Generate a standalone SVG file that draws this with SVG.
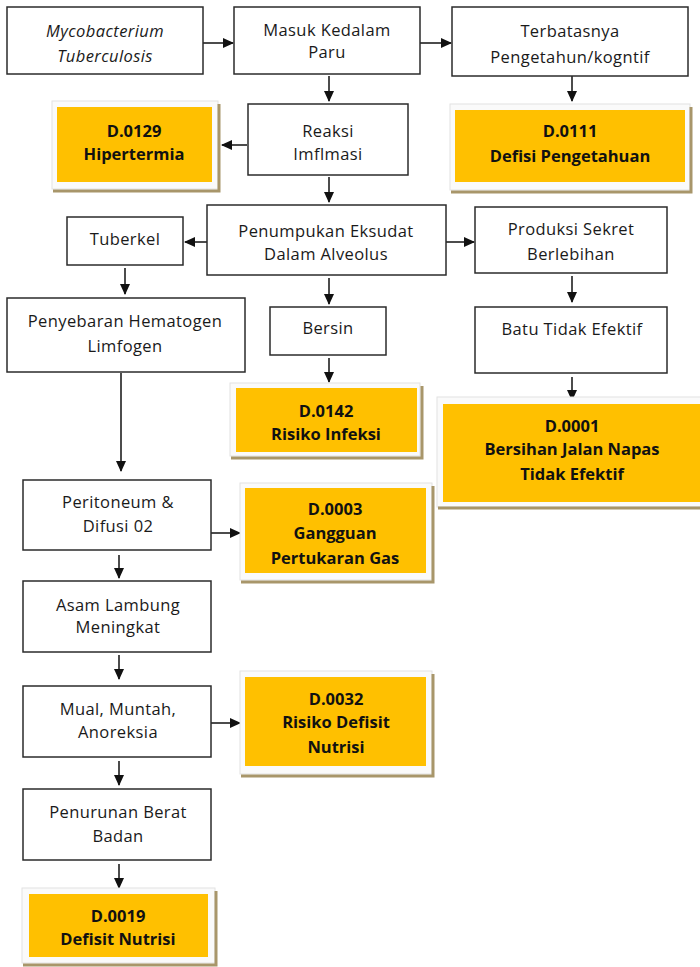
<svg xmlns="http://www.w3.org/2000/svg" width="700" height="967" viewBox="0 0 700 967">
<style>
.box{fill:#fff;stroke:#2b2b2b;stroke-width:1.5}
.t{font-family:"Open Sans","Liberation Sans",sans-serif;font-size:16.5px;fill:#1a1a1a;text-anchor:middle;letter-spacing:0.4px}
.it{font-style:italic}
.b{font-family:"Open Sans","Liberation Sans",sans-serif;font-size:16.5px;font-weight:bold;fill:#111;text-anchor:middle}
.frame{fill:#fafafa;stroke:#e2e2e2;stroke-width:1}
.yel{fill:#FFC000}
.shadow{fill:none;stroke:#a8966a;stroke-width:3}
.edge{fill:none;stroke:#111;stroke-width:1.5}
</style>
<defs>
<marker id="ah" markerWidth="11" markerHeight="11" refX="10" refY="5.5" orient="auto" markerUnits="userSpaceOnUse">
<path d="M0,0.5 L11,5.5 L0,10.5 Z" fill="#111"/>
</marker>
</defs>

<g id="connectors">
<line class="edge" x1="203" y1="43" x2="233" y2="43" marker-end="url(#ah)"/>
<line class="edge" x1="420" y1="43" x2="451" y2="43" marker-end="url(#ah)"/>
<line class="edge" x1="329" y1="76" x2="329" y2="101" marker-end="url(#ah)"/>
<line class="edge" x1="572" y1="76" x2="572" y2="101" marker-end="url(#ah)"/>
<line class="edge" x1="247" y1="145" x2="222" y2="145" marker-end="url(#ah)"/>
<line class="edge" x1="329" y1="177" x2="329" y2="202" marker-end="url(#ah)"/>
<line class="edge" x1="207" y1="242" x2="185" y2="242" marker-end="url(#ah)"/>
<line class="edge" x1="446" y1="242" x2="474" y2="242" marker-end="url(#ah)"/>
<line class="edge" x1="125" y1="268" x2="125" y2="294" marker-end="url(#ah)"/>
<line class="edge" x1="329" y1="278" x2="329" y2="304" marker-end="url(#ah)"/>
<line class="edge" x1="572" y1="276" x2="572" y2="302" marker-end="url(#ah)"/>
<line class="edge" x1="329" y1="358" x2="329" y2="382" marker-end="url(#ah)"/>
<line class="edge" x1="572" y1="377" x2="572" y2="400" marker-end="url(#ah)"/>
<line class="edge" x1="121" y1="373" x2="121" y2="471" marker-end="url(#ah)"/>
<line class="edge" x1="211" y1="533" x2="240" y2="533" marker-end="url(#ah)"/>
<line class="edge" x1="119" y1="555" x2="119" y2="578" marker-end="url(#ah)"/>
<line class="edge" x1="119" y1="655" x2="119" y2="679" marker-end="url(#ah)"/>
<line class="edge" x1="211" y1="723" x2="240" y2="723" marker-end="url(#ah)"/>
<line class="edge" x1="119" y1="761" x2="119" y2="785" marker-end="url(#ah)"/>
<line class="edge" x1="119" y1="864" x2="119" y2="888" marker-end="url(#ah)"/>
</g>

<g id="mycobacterium">
<rect class="box" x="7" y="7" width="196" height="67"/>
<text class="t it" x="105" y="37">Mycobacterium</text>
<text class="t it" x="105" y="62">Tuberculosis</text>
</g>
<g id="masuk">
<rect class="box" x="234" y="7" width="186" height="67"/>
<text class="t" x="327" y="36">Masuk Kedalam</text>
<text class="t" x="327" y="58">Paru</text>
</g>
<g id="terbatasnya">
<rect class="box" x="452" y="7" width="236" height="69"/>
<text class="t" x="570" y="37">Terbatasnya</text>
<text class="t" x="570" y="63">Pengetahun/kogntif</text>
</g>
<g id="reaksi">
<rect class="box" x="248" y="104" width="160" height="71"/>
<text class="t" x="328" y="137">Reaksi</text>
<text class="t" x="328" y="160">Imflmasi</text>
</g>
<g id="d0129">
<rect class="frame" x="52" y="101" width="166" height="88"/>
<polyline class="shadow" points="53,191 219,191 219,104"/>
<rect class="yel" x="57" y="107" width="155" height="75"/>
<text class="b" x="134" y="137">D.0129</text>
<text class="b" x="134" y="160">Hipertermia</text>
</g>
<g id="d0111">
<rect class="frame" x="450" y="104" width="240" height="86"/>
<polyline class="shadow" points="451,192 691,192 691,107"/>
<rect class="yel" x="455" y="110" width="230" height="72"/>
<text class="b" x="570" y="137">D.0111</text>
<text class="b" x="570" y="162">Defisi Pengetahuan</text>
</g>
<g id="penumpukan">
<rect class="box" x="207" y="205" width="239" height="70"/>
<text class="t" x="326" y="237">Penumpukan Eksudat</text>
<text class="t" x="326" y="260">Dalam Alveolus</text>
</g>
<g id="tuberkel">
<rect class="box" x="67" y="217" width="116" height="48"/>
<text class="t" x="125" y="245">Tuberkel</text>
</g>
<g id="produksi">
<rect class="box" x="475" y="207" width="192" height="66"/>
<text class="t" x="571" y="235">Produksi Sekret</text>
<text class="t" x="571" y="260">Berlebihan</text>
</g>
<g id="penyebaran">
<rect class="box" x="7" y="298" width="238" height="74"/>
<text class="t" x="125" y="327">Penyebaran Hematogen</text>
<text class="t" x="125" y="352">Limfogen</text>
</g>
<g id="bersin">
<rect class="box" x="270" y="307" width="116" height="48"/>
<text class="t" x="328" y="334">Bersin</text>
</g>
<g id="batu">
<rect class="box" x="475" y="307" width="192" height="66"/>
<text class="t" x="572" y="335">Batu Tidak Efektif</text>
</g>
<g id="d0142">
<rect class="frame" x="230" y="383" width="190" height="73"/>
<polyline class="shadow" points="231,458 422,458 422,386"/>
<rect class="yel" x="236" y="388" width="181" height="64"/>
<text class="b" x="326" y="417">D.0142</text>
<text class="b" x="326" y="440">Risiko Infeksi</text>
</g>
<g id="d0001">
<rect class="frame" x="437" y="397" width="266" height="110"/>
<polyline class="shadow" points="438,508 700,508"/>
<rect class="yel" x="443" y="404" width="257" height="98"/>
<text class="b" x="572" y="432">D.0001</text>
<text class="b" x="572" y="455">Bersihan Jalan Napas</text>
<text class="b" x="572" y="480">Tidak Efektif</text>
</g>
<g id="peritoneum">
<rect class="box" x="23" y="480" width="188" height="70"/>
<text class="t" x="118" y="508">Peritoneum &amp;</text>
<text class="t" x="118" y="532">Difusi 02</text>
</g>
<g id="d0003">
<rect class="frame" x="240" y="483" width="192" height="97"/>
<polyline class="shadow" points="241,582 433,582 433,486"/>
<rect class="yel" x="245" y="488" width="181" height="85"/>
<text class="b" x="335" y="515">D.0003</text>
<text class="b" x="335" y="539">Gangguan</text>
<text class="b" x="335" y="564">Pertukaran Gas</text>
</g>
<g id="asam">
<rect class="box" x="23" y="581" width="188" height="71"/>
<text class="t" x="118" y="611">Asam Lambung</text>
<text class="t" x="118" y="633">Meningkat</text>
</g>
<g id="mual">
<rect class="box" x="23" y="686" width="188" height="71"/>
<text class="t" x="118" y="715">Mual, Muntah,</text>
<text class="t" x="118" y="738">Anoreksia</text>
</g>
<g id="d0032">
<rect class="frame" x="240" y="671" width="192" height="103"/>
<polyline class="shadow" points="241,776 433,776 433,674"/>
<rect class="yel" x="245" y="677" width="181" height="89"/>
<text class="b" x="336" y="705">D.0032</text>
<text class="b" x="336" y="728">Risiko Defisit</text>
<text class="b" x="336" y="753">Nutrisi</text>
</g>
<g id="penurunan">
<rect class="box" x="23" y="789" width="188" height="71"/>
<text class="t" x="118" y="818">Penurunan Berat</text>
<text class="t" x="118" y="842">Badan</text>
</g>
<g id="d0019">
<rect class="frame" x="22" y="888" width="193" height="75"/>
<polyline class="shadow" points="23,965 216,965 216,891"/>
<rect class="yel" x="29" y="894" width="179" height="63"/>
<text class="b" x="118" y="922">D.0019</text>
<text class="b" x="118" y="945">Defisit Nutrisi</text>
</g>
</svg>
